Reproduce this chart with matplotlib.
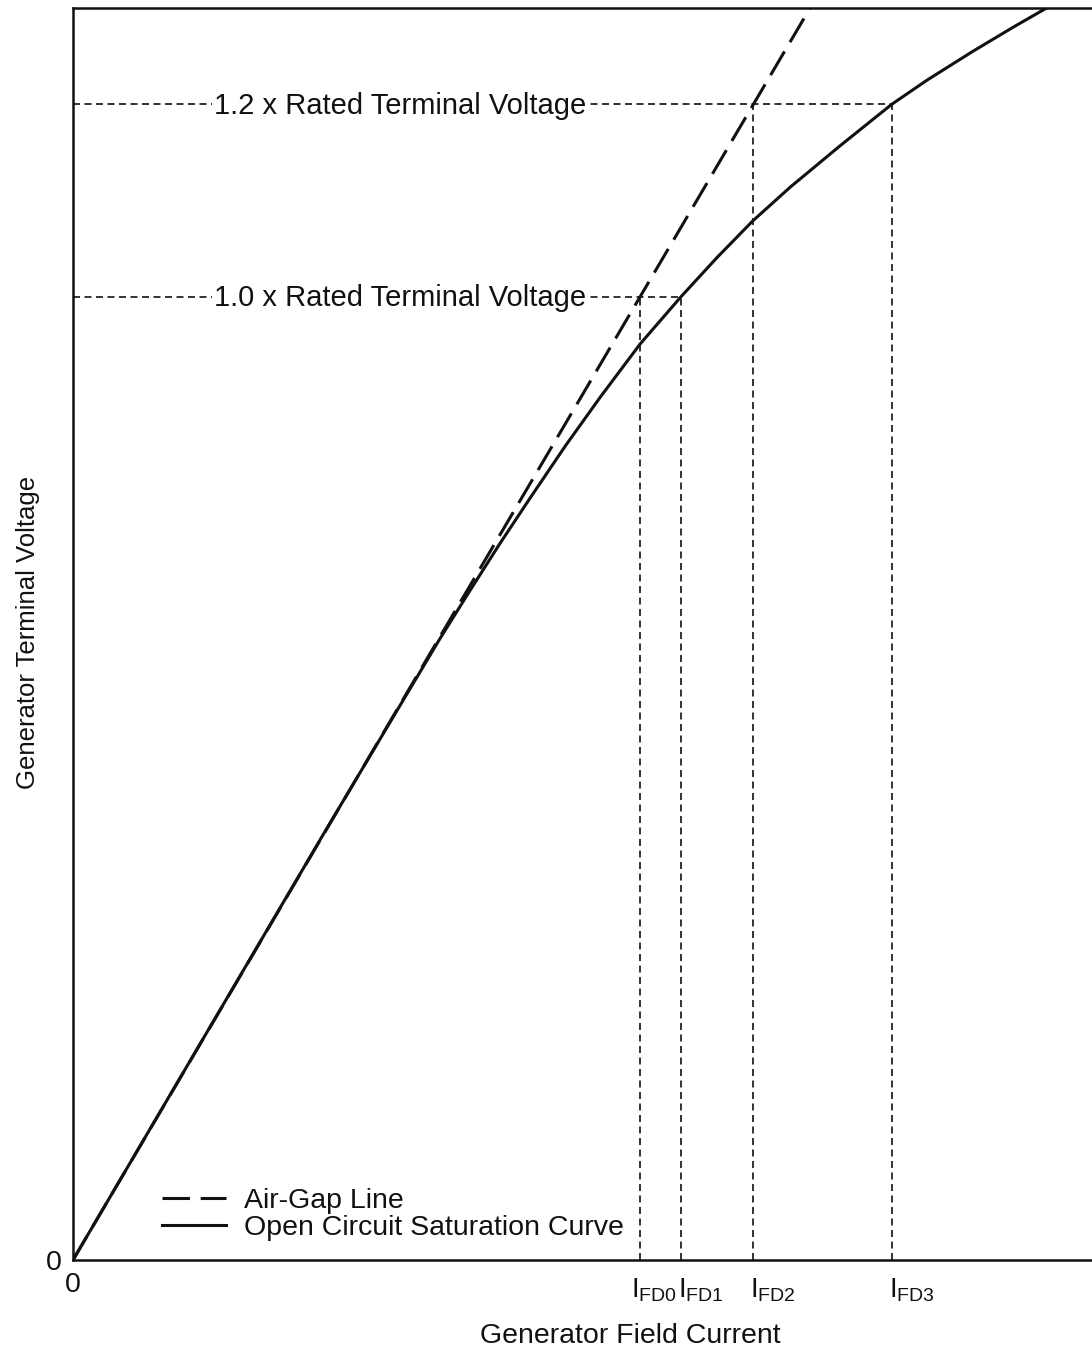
import matplotlib
matplotlib.use('Agg')
import matplotlib.pyplot as plt
import matplotlib.transforms as mtransforms

plt.rcParams['font.family'] = ['Liberation Sans', 'DejaVu Sans']
plt.rcParams['mathtext.fontset'] = 'custom'
plt.rcParams['mathtext.rm'] = 'Liberation Sans'
plt.rcParams['mathtext.it'] = 'Liberation Sans'

# field current normalised to IFD0, voltage normalised to rated voltage
airgap_x = [0.0, 1.30]
airgap_y = [0.0, 1.30]

occ_x = [0.0, 0.446, 0.577, 0.647, 0.700, 0.753, 0.806, 0.868, 0.930, 1.000, 1.072,
         1.136, 1.199, 1.265, 1.353, 1.444, 1.506, 1.587, 1.658, 1.723]
occ_y = [0.0, 0.4465, 0.576, 0.645, 0.695, 0.744, 0.791, 0.845, 0.896, 0.951, 1.000,
         1.041, 1.079, 1.114, 1.157, 1.200, 1.225, 1.255, 1.280, 1.302]

ifd_names = ['FD0', 'FD1', 'FD2', 'FD3']
ifd_vals = [1.000, 1.072, 1.200, 1.444]
ifd_tops = [1.0, 1.0, 1.2, 1.2]

ref_levels = [1.0, 1.2]
ref_ends = [1.072, 1.444]
ref_labels = ['1.0 x Rated Terminal Voltage', '1.2 x Rated Terminal Voltage']

ink = '#111111'
fs = 20.5

fig = plt.figure(figsize=(10.92, 13.51), dpi=100)
ax = fig.add_axes([73/1092, 91/1351, 1019/1092, 1252/1351])

# reference dashed lines
for lvl, xe in zip(ref_levels, ref_ends):
    ax.plot([0, xe], [lvl, lvl], color=ink, lw=1.2, linestyle=(0, (4.2, 2.7)), zorder=1)
for xv, yt in zip(ifd_vals, ifd_tops):
    ax.plot([xv, xv], [0, yt], color=ink, lw=1.2, linestyle=(0, (4.2, 2.7)), zorder=1)

lab_tr = mtransforms.offset_copy(ax.transData, fig=fig, x=0, y=-9.5, units='dots')
for lvl, lab in zip(ref_levels, ref_labels):
    ax.text(0.577, lvl, lab, ha='center', va='baseline', fontsize=21, color=ink,
            transform=lab_tr,
            bbox=dict(facecolor='white', edgecolor='none', pad=1.5), zorder=2)

ax.plot(airgap_x, airgap_y, color=ink, lw=2.2, linestyle=(0, (9, 3.5)),
        label='Air-Gap Line', zorder=3)
ax.plot(occ_x, occ_y, color=ink, lw=2.2, label='Open Circuit Saturation Curve', zorder=4)

ax.set_xlim(0, 1019/567)
ax.set_ylim(0, 1.30)

ax.set_xticks([0])
ax.set_xticklabels(['0'], fontsize=fs, color=ink)
ax.set_yticks([0])
ax.set_yticklabels(['0'], fontsize=fs, color=ink)
ax.tick_params(length=0)
ax.tick_params(axis='x', pad=9)
ax.tick_params(axis='y', pad=8)

for s in ['left', 'bottom', 'top']:
    ax.spines[s].set_linewidth(1.8)
    ax.spines[s].set_color(ink)
ax.spines['right'].set_visible(False)

# IFD labels under the axis
offsets = [-9, -3, -3, -3]
for name, xv, off in zip(ifd_names, ifd_vals, offsets):
    tr = mtransforms.offset_copy(ax.get_xaxis_transform(), fig=fig, x=off, y=-16, units='dots')
    ax.text(xv, 0, r'$\mathregular{I_{%s}}$' % name, transform=tr, ha='left', va='top',
            fontsize=20, color=ink)

fig.text(630/1092, 1 - 1336/1351, 'Generator Field Current', ha='center', va='center',
         fontsize=fs, color=ink)
fig.text(28/1092, 1 - 632/1351, 'Generator Terminal Voltage', ha='center', va='center',
         rotation=90, fontsize=18.5, color=ink)

leg = ax.legend(loc='lower left', bbox_to_anchor=(0.087, 0.015), frameon=False,
                fontsize=fs, handlelength=2.25, handletextpad=0.65, labelspacing=0.06,
                borderpad=0, borderaxespad=0)
for t in leg.get_texts():
    t.set_color(ink)

fig.savefig('out.png', dpi=100)
